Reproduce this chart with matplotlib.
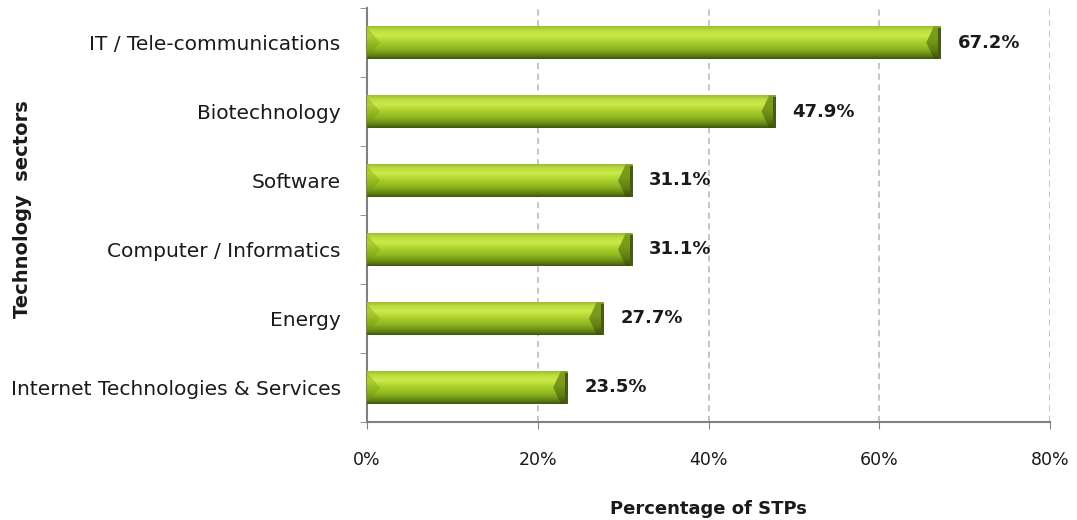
import numpy as np
import matplotlib.pyplot as plt
from matplotlib.colors import LinearSegmentedColormap
from matplotlib.patches import Polygon, Rectangle

sectors = ["IT / Tele-communications", "Biotechnology", "Software",
           "Computer / Informatics", "Energy", "Internet Technologies & Services"]
shares = [67.2, 47.9, 31.1, 31.1, 27.7, 23.5]
xticks = [0, 20, 40, 60, 80]
xtick_labels = ["0%", "20%", "40%", "60%", "80%"]

plt.rcParams['font.family'] = ['DejaVu Sans']

fig = plt.figure(figsize=(10.77, 5.2), dpi=100)
ax = fig.add_axes([0.3408, 0.1885, 0.6342, 0.7961])

# vertical shading of the bars, top to bottom
body = LinearSegmentedColormap.from_list("body", [
    (0.00, "#9cbd30"), (0.12, "#bcdd40"), (0.28, "#cbea4a"),
    (0.50, "#a8cd2a"), (0.68, "#90b720"), (0.82, "#739618"),
    (0.92, "#5a7812"), (1.00, "#40550a")])
cap = LinearSegmentedColormap.from_list("cap", [
    (0.00, "#7e9f1c"), (0.40, "#789a18"), (0.75, "#5e7c12"), (1.00, "#3a4e08")])
grad = np.linspace(0, 1, 64).reshape(-1, 1)

h = 0.47
b_in, b_out = 1.7, 0.8  # end bevel widths, in percent units
for i, v in enumerate(shares):
    top, bot = i - h / 2, i + h / 2
    im = ax.imshow(grad, cmap=body, aspect='auto', extent=[0, v, bot, top],
                   interpolation='bicubic', zorder=3)
    im.set_clip_path(Rectangle((0, top), v, h, transform=ax.transData))
    # right end cap
    face = Polygon([(v - b_out, top), (v, top), (v, bot), (v - b_out, bot), (v - b_in, i)],
                   closed=True, transform=ax.transData)
    cim = ax.imshow(grad, cmap=cap, aspect='auto', extent=[v - b_in, v, bot, top],
                    interpolation='bicubic', zorder=4)
    cim.set_clip_path(face)
    ax.add_patch(Rectangle((v - 0.35, top + 0.05 * h), 0.35, 0.95 * h,
                           facecolor="#465e0b", edgecolor='none', zorder=5))
    # left end point
    ax.add_patch(Polygon([(0, top + 0.05 * h), (b_in * 0.9, i), (0, bot - 0.05 * h)],
                         closed=True, facecolor="#6f900e", edgecolor='none', alpha=0.3, zorder=4))
    ax.annotate(f"{v:.1f}%", xy=(v, i), xytext=(12, 0), textcoords='offset points',
                ha='left', va='center', fontsize=13, fontweight='bold', color="#1a1a1a")

ax.set_xlim(0, 80)
ax.set_ylim(len(sectors) - 0.5, -0.5)

for x in xticks[1:]:
    ax.axvline(x, color="#b5b5b5", lw=1.1, ls=(0, (4, 3)), zorder=1)

ax.set_xticks(xticks)
ax.set_xticklabels(xtick_labels, fontsize=12.5, color="#1a1a1a")
ax.tick_params(axis='x', length=5, color="#808080", pad=16)

ax.set_yticks(range(len(sectors)))
ax.set_yticklabels(sectors, fontsize=14.5, color="#1a1a1a")
ax.set_yticks(np.arange(-0.5, len(sectors)), minor=True)
ax.tick_params(axis='y', which='major', length=0, pad=19)
ax.tick_params(axis='y', which='minor', length=5, color="#808080")

for s in ['top', 'right']:
    ax.spines[s].set_visible(False)
for s in ['left', 'bottom']:
    ax.spines[s].set_color("#808080")
    ax.spines[s].set_linewidth(1.5)

ax.set_xlabel("Percentage of STPs", fontsize=13, fontweight='bold', color="#1a1a1a", labelpad=22)
fig.text(0.021, 0.598, "Technology  sectors", rotation=90, ha='center', va='center',
         fontsize=14, fontweight='bold', color="#1a1a1a")

fig.savefig("out.png", dpi=100)
